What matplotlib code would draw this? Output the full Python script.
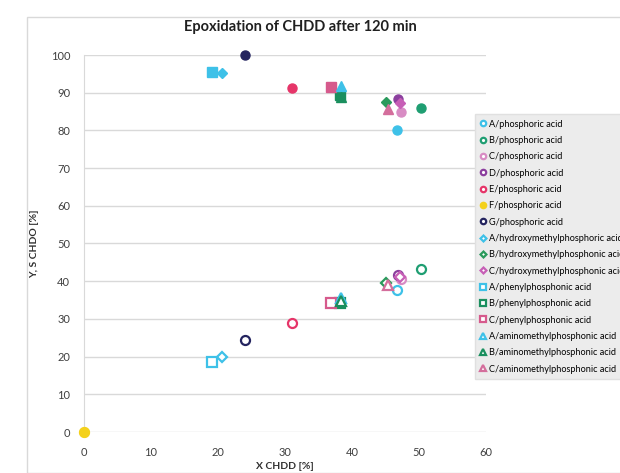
import matplotlib
matplotlib.use("Agg")
import matplotlib.pyplot as plt
from matplotlib.patches import Rectangle

plt.rcParams['font.family'] = ['Lato', 'DejaVu Sans']

# catalyst / acid combinations
labels = ['A/phosphoric acid', 'B/phosphoric acid', 'C/phosphoric acid',
          'D/phosphoric acid', 'E/phosphoric acid', 'F/phosphoric acid',
          'G/phosphoric acid', 'A/hydroxymethylphosphoric acid',
          'B/hydroxymethylphosphonic acid', 'C/hydroxymethylphosphonic acid',
          'A/phenylphosphonic acid', 'B/phenylphosphonic acid',
          'C/phenylphosphonic acid', 'A/aminomethylphosphonic acid',
          'B/aminomethylphosphonic acid', 'C/aminomethylphosphonic acid']
x_chdd = [46.7, 50.3, 47.3, 46.9, 31.0, 0.0, 24.1, 20.6,
          45.1, 47.2, 19.1, 38.2, 36.8, 38.4, 38.3, 45.4]
y_chdo = [37.7, 43.3, 40.6, 41.6, 28.8, 0.0, 24.3, 19.9,
          39.6, 41.0, 18.6, 34.2, 34.1, 35.6, 34.8, 39.0]
s_chdo = [80.0, 85.9, 84.9, 88.3, 91.3, 0.0, 100.0, 95.3,
          87.5, 87.4, 95.4, 89.4, 91.4, 91.7, 88.8, 85.6]

colors = ['#3ec1e8', '#1f9e72', '#d88cc4', '#8b3f9e', '#e63569', '#f4d11c',
          '#24245f', '#3ec1e8', '#2a9a5c', '#c75fb6', '#3ec1e8', '#1a8f5e',
          '#d65a8c', '#3ec1e8', '#1a8f5e', '#d46e9c']
markers = ['o', 'o', 'o', 'o', 'o', 'o', 'o', 'D', 'D', 'D',
           's', 's', 's', '^', '^', '^']

fig = plt.figure(figsize=(6.2, 4.73), dpi=100)
# chart frame
fig.patches.append(Rectangle((27/620, 0.0), 1.0, 1 - 17/473, transform=fig.transFigure,
                             facecolor='none', edgecolor='#d9d9d9', lw=1.0))
ax = fig.add_axes([84/620, 1 - 432/473, 402/620, 377/473])

for i in range(len(labels)):
    ms = 6.5 if markers[i] != 'D' else 5
    # yield, open marker
    ax.plot(x_chdd[i], y_chdo[i], linestyle='none', marker=markers[i], ms=ms,
            mfc='white' if i != 5 else colors[i], mec=colors[i], mew=1.6,
            clip_on=False, zorder=3, label=labels[i])
    # selectivity, filled marker
    ax.plot(x_chdd[i], s_chdo[i], linestyle='none', marker=markers[i], ms=ms,
            mfc=colors[i], mec=colors[i], mew=1.0, clip_on=False, zorder=3)

ax.set_xlim(0, 60)
ax.set_ylim(0, 100)
ax.set_xticks(range(0, 61, 10))
ax.set_yticks(range(0, 101, 10))
ax.grid(axis='y', color='#d9d9d9', lw=1.0)
ax.set_axisbelow(True)
for side in ['top', 'right', 'bottom']:
    ax.spines[side].set_visible(False)
ax.spines['left'].set_color('#d9d9d9')
ax.tick_params(length=0, labelsize=8, labelcolor='#404040')
ax.tick_params(axis='y', pad=10)
ax.tick_params(axis='x', pad=11)

fig.text(300/620, 1 - 27/473, 'Epoxidation of CHDD after 120 min', fontsize=10.5,
         fontweight='bold', color='#202020', ha='center', va='center')
ax.set_xlabel('X CHDD [%]', fontsize=7.5, fontweight='bold', color='#303030', labelpad=3)
ax.set_ylabel('Y, S CHDO [%]', fontsize=7.5, fontweight='bold', color='#303030', labelpad=8)

# legend runs past the right edge, as in the original chart
leg = ax.legend(loc='upper left', bbox_to_anchor=(475/620, 1 - 114/473),
                bbox_transform=fig.transFigure, fontsize=6.6, labelspacing=0.8,
                handlelength=0.6, handletextpad=0.3, markerscale=0.6,
                frameon=True, fancybox=False, borderpad=0.6, borderaxespad=0)
leg.get_frame().set_facecolor('#ececec')
leg.get_frame().set_edgecolor('#e0e0e0')
leg.get_frame().set_alpha(1.0)

fig.savefig('out.png', dpi=100)
